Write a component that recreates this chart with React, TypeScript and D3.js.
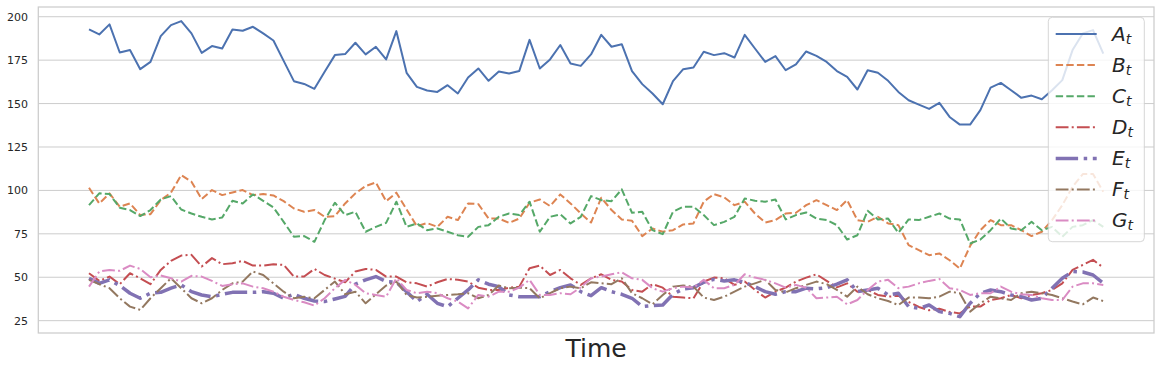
import * as d3 from 'd3';
import React from 'react';

const W = 1160;
const H = 368;
const plot = { left: 38.3, right: 1154, top: 7, bottom: 333 };

const labels = ['A', 'B', 'C', 'D', 'E', 'F', 'G'];
const colors = ['#4c72b0', '#dd8452', '#55a868', '#c44e52', '#8172b3', '#937860', '#da8bc3'];
const yTicks = [25, 50, 75, 100, 125, 150, 175, 200];

const seriesA = [
  192.7, 189.8, 195.6, 179.4, 180.8, 169.8, 174, 188.8, 195.2, 197.5,
  190.4, 179.2, 183.1, 181.7, 192.7, 191.9, 194.2, 190.4, 186.3, 174.6,
  162.9, 161.3, 158.5, 168.3, 177.9, 178.5, 185, 178.3, 182.7, 175.4,
  191.7, 167.7, 159.6, 157.5, 156.7, 160.6, 155.8, 165, 170.2, 163.1,
  168.5, 167.3, 168.8, 186.7, 170.2, 175.4, 183.7, 173.1, 171.7, 178.3,
  189.6, 182.7, 184.2, 168.7, 161.2, 155.8, 149.6, 162.9, 169.8, 170.8,
  179.8, 177.9, 179, 176.5, 189.6, 181.7, 174, 177.3, 169.2, 172.5,
  180, 177.5, 174, 168.7, 165.4, 158.1, 169.2, 167.7, 163.1, 156.7,
  151.9, 149.4, 146.9, 150.4, 142.3, 137.9, 137.9, 146.2, 159.2, 161.9,
  157.7, 153.3, 154.6, 152.5, 157.7, 163.5, 180.8, 190.4, 192.3, 178.8,
];
const seriesB = [
  101.5, 92.5, 98.3, 90.6, 92.5, 85.8, 86.3, 94.4, 98.7, 108.8,
  105, 95, 100.2, 97.3, 98.8, 100.2, 97.3, 97.9, 97.1, 93.8,
  89.6, 87.7, 88.7, 84.8, 85.2, 92.5, 98.3, 102.5, 104.6, 93.8,
  98.7, 89, 79.4, 81.2, 79, 84.8, 82.9, 92.5, 92.1, 83.8,
  83.8, 81.3, 83.8, 92.9, 94.8, 91, 97.7, 92.5, 86.7, 81.5,
  95.8, 88.7, 83.3, 82.5, 73.7, 78.1, 76.2, 77.1, 80.4, 81,
  93.5, 97.9, 96, 91.5, 93.5, 86.7, 81.5, 82.9, 86.7, 87.1,
  91.5, 94.4, 91.5, 88.7, 94.4, 82.9, 81.9, 84.8, 81, 80,
  68.5, 65.6, 62.7, 63.7, 59.8, 55, 68, 77.1, 82.9, 80,
  80, 77.1, 73.7, 76.2, 82.9, 91.5, 102.1, 109.4, 109.4, 99.2,
];
const seriesC = [
  91.5, 98.3, 97.9, 90, 88.7, 85.2, 88.7, 94.8, 96.7, 89,
  86.7, 84.8, 83.3, 84.4, 94, 92.5, 97.7, 94, 90.2, 81.9,
  73.3, 73.7, 70.4, 82.9, 92.9, 85.8, 87.7, 76.2, 79, 81.3,
  93.5, 79, 81, 77.1, 78.1, 76.2, 74.2, 73.3, 79, 80,
  84.8, 86.7, 85.8, 93.5, 76.2, 84.8, 86.2, 81, 84.8, 96.7,
  94.4, 93.8, 100.6, 87.1, 87.7, 77.1, 74.8, 87.7, 90.6, 90.6,
  85.8, 80, 81.9, 84.8, 95.4, 94, 93.5, 94.8, 83.3, 85.8,
  87.3, 83.8, 82.9, 80, 71.7, 74.2, 88.3, 83.3, 83.8, 75.6,
  83.3, 82.9, 84.8, 86.7, 83.8, 83.3, 69.4, 71.7, 77.1, 83.8,
  78.1, 77.1, 81.9, 77.1, 79, 73.3, 79, 80, 82.9, 79,
];
const seriesD = [
  52.3, 47.9, 50.4, 46, 52.3, 49.4, 46, 54.2, 59.4, 62.5,
  62.9, 56.2, 61, 57.5, 58.1, 59.4, 56.7, 56.7, 57.5, 57.1,
  50.4, 50.4, 54.8, 51.3, 49.2, 47.1, 53.3, 54.8, 54.2, 50.4,
  50.4, 47.1, 46.5, 44.6, 47.1, 49, 48.5, 47.5, 44, 42.7,
  42.7, 44, 44.6, 55.2, 56.7, 51.3, 54.2, 49.4, 45.6, 49.4,
  51.7, 48.5, 47.5, 42.7, 41.7, 46, 44, 38.8, 38.3, 37.9,
  47.5, 49.8, 49.4, 45.6, 47.5, 42.7, 38.3, 41.7, 44, 47.5,
  49.8, 51.7, 47.9, 44.2, 46.5, 41.7, 42.7, 39.8, 38.8, 39.4,
  35.8, 32.9, 31, 31.9, 30, 29.2, 33.1, 33.1, 36.9, 37.9,
  39.8, 37.9, 39.8, 40.8, 42.7, 46.5, 54.2, 57.1, 60, 55.6,
];
const seriesE = [
  49.4, 46.5, 48.5, 45.2, 40.8, 37.9, 40.8, 41.3, 43.7, 45.6,
  41.7, 39.8, 38.8, 40.2, 41.3, 41.3, 41.3, 41.7, 40.8, 37.9,
  40.2, 37.9, 36.3, 36, 37.5, 39, 46, 48.5, 50.4, 47.5,
  47.1, 41.7, 36, 40.2, 35, 33, 37.9, 42.7, 48.5, 46,
  44.6, 39.8, 38.8, 38.8, 38.8, 41.7, 44, 45.6, 41.7, 39.4,
  44, 41.7, 40.2, 37.9, 33.1, 33.7, 34, 40.2, 43.3, 44,
  47.1, 48.8, 47.9, 48.5, 47.1, 44.6, 41.7, 40.2, 41.7, 41.7,
  43.7, 43.3, 44, 46, 48.5, 41.7, 42.7, 43.7, 39.8, 40.8,
  33.1, 32.1, 34, 30.2, 29.2, 27.3, 35, 40.8, 42.7, 41.7,
  39.8, 38.8, 36.9, 37.9, 43.7, 49.4, 53.3, 53, 51.3, 46.5,
];
const seriesF = [
  48.5, 46, 43.7, 37.9, 33.1, 31.2, 37.9, 43.7, 49.4, 43.7,
  37.9, 35, 37.9, 42.7, 46.5, 47.5, 53.3, 51.3, 46.5, 41.7,
  37.9, 38.8, 37.9, 42.7, 47.5, 40.2, 41.7, 35, 40.2, 45.2,
  47.5, 39.8, 38.3, 38.8, 39.4, 39.8, 40.2, 40.8, 37.9, 39.8,
  45.2, 43.7, 44, 43.7, 37.9, 40.8, 43.7, 44.6, 43.7, 47.1,
  46.5, 46, 49.4, 40.8, 37.9, 34.4, 39.8, 44.6, 45.2, 44.6,
  38.3, 36.9, 38.8, 41.7, 44.6, 46.5, 48.5, 42.7, 41.3, 43.7,
  45.6, 47.5, 46, 42.7, 38.8, 44.6, 40.2, 37.9, 36.3, 34,
  38.3, 38.3, 37.9, 38.8, 41.7, 40.8, 30.2, 35, 38.8, 37.9,
  36.9, 40.8, 41.7, 40.8, 39.8, 37.9, 36, 34.4, 38.3, 36.3,
];
const seriesG = [
  44.6, 53.3, 54.2, 53.7, 56.7, 54.8, 50, 51, 49.4, 47.5,
  50.8, 50.4, 47.9, 45, 46, 46.5, 44.6, 43.7, 41.7, 38.8,
  36.9, 35.6, 33.7, 37.9, 43.7, 48.5, 45.6, 40.8, 39.8, 38.8,
  49.4, 42.7, 40.8, 41.7, 40.8, 37.9, 36, 32.1, 39.8, 38.8,
  41.7, 41.7, 44, 48.5, 39.8, 39.8, 40.8, 40.2, 44.2, 49.4,
  50.4, 51.7, 52.9, 49.4, 48.5, 43.7, 41.7, 43.7, 44.6, 44,
  48.5, 43.7, 43.7, 45.6, 51.7, 49.8, 48.5, 46.5, 44, 45.6,
  44, 37.9, 38.3, 38.8, 34.4, 36.9, 42.7, 47.5, 48.5, 43.7,
  44.6, 46.5, 47.9, 49, 43.7, 42.7, 39.8, 40.8, 40.8, 44.6,
  41.7, 40.2, 39.8, 37.9, 36.9, 36.9, 44.6, 46.5, 46.5, 45.6,
];

const allSeries = [seriesA, seriesB, seriesC, seriesD, seriesE, seriesF, seriesG];

// line styles roughly like matplotlib '-', '--', '-.' scaled by width
const widths = [2, 2, 2, 2, 3.5, 2, 2];
const dashes = ['', '7.4 3.2', '7.4 3.2', '12.8 3.2 2 3.2', '22.4 5.6 3.5 5.6', '12.8 3.2 2 3.2', '12.8 3.2 2 3.2'];

const n = seriesA.length;
const x = d3.scaleLinear().domain([-0.05 * (n - 1), (n - 1) * 1.05]).range([plot.left, plot.right]);
const y = d3.scaleLinear().domain([17.9, 205.6]).range([plot.bottom, plot.top]);

const line = d3.line<number>()
  .x((d, i) => x(i))
  .y(d => y(d));

const font = '"DejaVu Sans", sans-serif';

export default function App() {
  const legend = { x: 1048.3, y: 17.3, w: 96, h: 224.4 };
  const rowY = (i: number) => 34 + i * 31.1;

  return (
    <svg width={W} height={H} style={{ position: 'fixed', left: 0, top: 0, background: '#fff' }}>
      <defs>
        <clipPath id="plotClip">
          <rect x={plot.left} y={plot.top} width={plot.right - plot.left} height={plot.bottom - plot.top} />
        </clipPath>
      </defs>
      <rect x={0} y={0} width={W} height={H} fill="#fff" />

      {/* grid */}
      {yTicks.map(t => (
        <line key={t} x1={plot.left} x2={plot.right} y1={y(t)} y2={y(t)} stroke="#cccccc" strokeWidth={1} />
      ))}

      {/* tick labels */}
      {yTicks.map(t => (
        <text key={'l' + t} x={28} y={y(t)} dy="0.36em" textAnchor="end" fontFamily={font} fontSize={11} fill="#262626">
          {t}
        </text>
      ))}

      {/* series */}
      <g clipPath="url(#plotClip)">
        {allSeries.map((s, k) => (
          <path
            key={labels[k]}
            d={line(s) || ''}
            fill="none"
            stroke={colors[k]}
            strokeWidth={widths[k]}
            strokeDasharray={dashes[k] || undefined}
            strokeLinejoin="round"
          />
        ))}
      </g>

      {/* frame */}
      <rect
        x={plot.left}
        y={plot.top}
        width={plot.right - plot.left}
        height={plot.bottom - plot.top}
        fill="none"
        stroke="#cccccc"
        strokeWidth={1.25}
      />

      <text x={(plot.left + plot.right) / 2} y={357} textAnchor="middle" fontFamily={font} fontSize={25} fill="#262626">
        Time
      </text>

      {/* legend */}
      <rect
        x={legend.x}
        y={legend.y}
        width={legend.w}
        height={legend.h}
        rx={4}
        fill="#fff"
        fillOpacity={0.8}
        stroke="#cccccc"
        strokeOpacity={0.8}
      />
      {labels.map((lab, k) => (
        <g key={'leg' + lab}>
          <line
            x1={1055.7}
            x2={1096.7}
            y1={rowY(k)}
            y2={rowY(k)}
            stroke={colors[k]}
            strokeWidth={widths[k]}
            strokeDasharray={dashes[k] || undefined}
          />
          <text x={1112} y={rowY(k) + 6.7} fontFamily={font} fontStyle="italic" fontSize={20} fill="#262626">
            {lab}
            <tspan fontSize={14} dy={3}>t</tspan>
          </text>
        </g>
      ))}
    </svg>
  );
}
